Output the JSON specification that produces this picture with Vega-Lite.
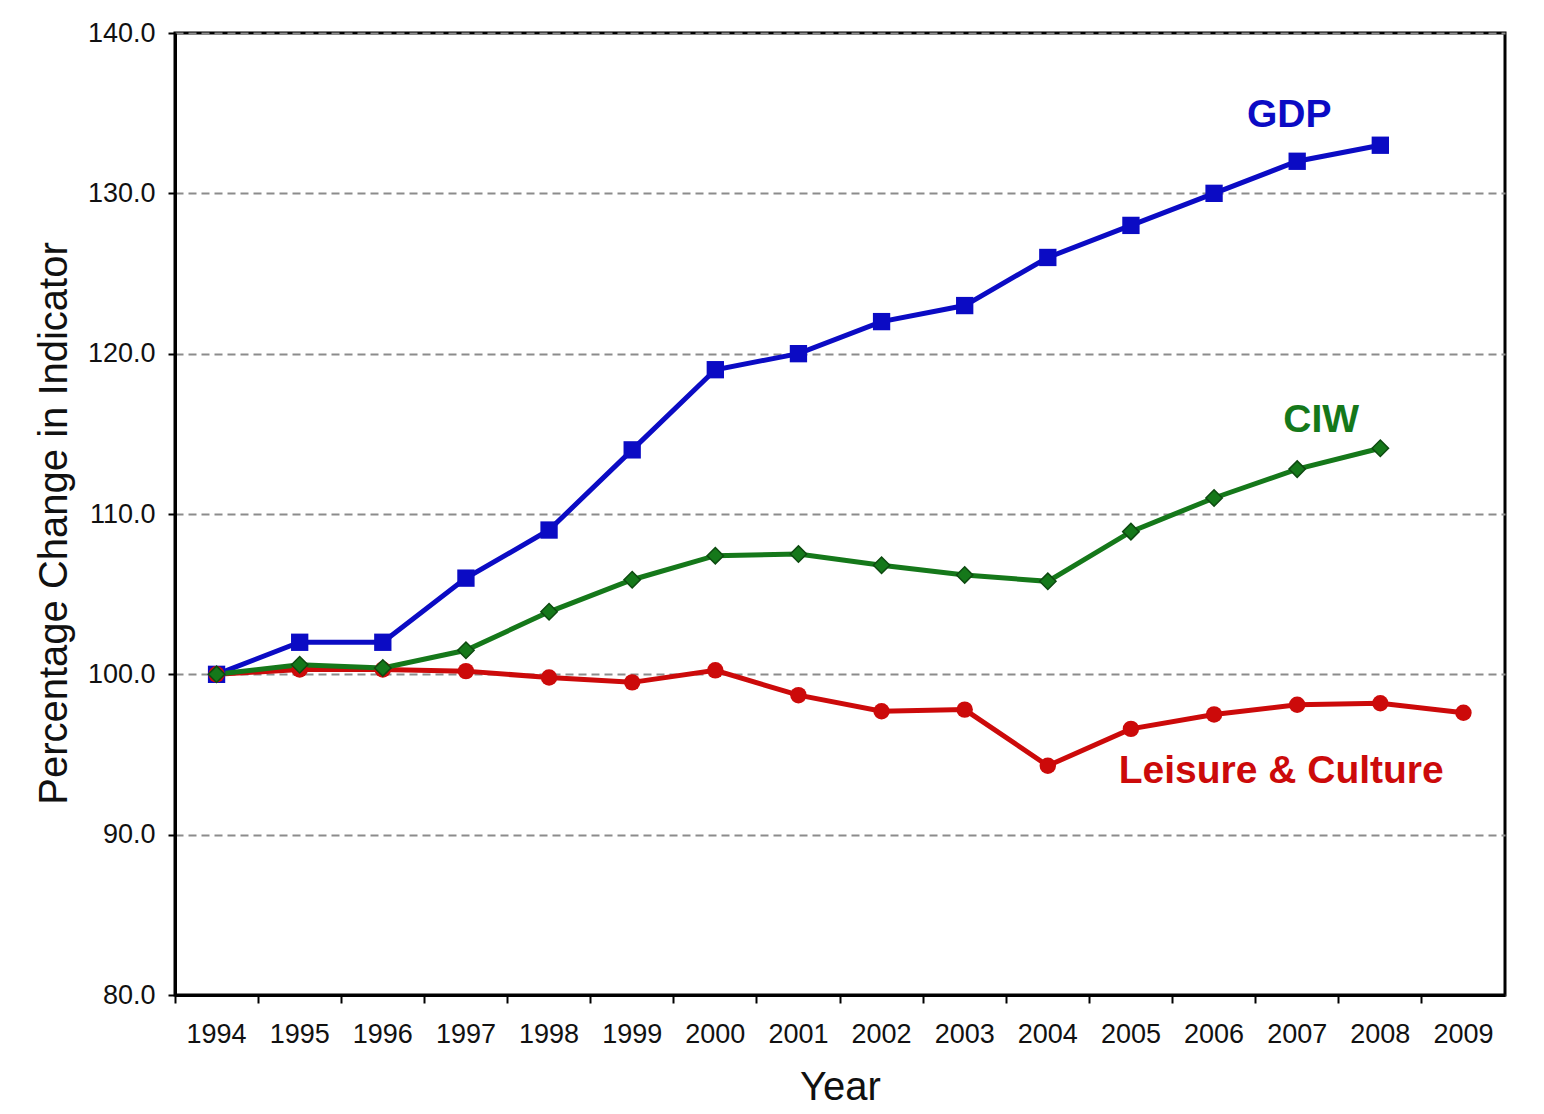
{
  "$schema": "https://vega.github.io/schema/vega-lite/v6.json",
  "width": 1330,
  "height": 962,
  "autosize": {"type": "none"},
  "padding": {"left": 175, "top": 33, "right": 39, "bottom": 119},
  "background": "white",
  "config": {
    "view": {"stroke": "black", "strokeWidth": 3},
    "font": "Liberation Sans",
    "axis": {"labelFont": "Liberation Sans", "titleFont": "Liberation Sans", "labelColor": "#111", "titleColor": "#111", "titleFontWeight": "normal"}
  },
  "datasets": {
    "series": [
      {"year": "1994", "series": "GDP", "value": 100},
      {"year": "1995", "series": "GDP", "value": 102},
      {"year": "1996", "series": "GDP", "value": 102},
      {"year": "1997", "series": "GDP", "value": 106},
      {"year": "1998", "series": "GDP", "value": 109},
      {"year": "1999", "series": "GDP", "value": 114},
      {"year": "2000", "series": "GDP", "value": 119},
      {"year": "2001", "series": "GDP", "value": 120},
      {"year": "2002", "series": "GDP", "value": 122},
      {"year": "2003", "series": "GDP", "value": 123},
      {"year": "2004", "series": "GDP", "value": 126},
      {"year": "2005", "series": "GDP", "value": 128},
      {"year": "2006", "series": "GDP", "value": 130},
      {"year": "2007", "series": "GDP", "value": 132},
      {"year": "2008", "series": "GDP", "value": 133},
      {"year": "1994", "series": "Leisure & Culture", "value": 100},
      {"year": "1995", "series": "Leisure & Culture", "value": 100.3},
      {"year": "1996", "series": "Leisure & Culture", "value": 100.3},
      {"year": "1997", "series": "Leisure & Culture", "value": 100.2},
      {"year": "1998", "series": "Leisure & Culture", "value": 99.8},
      {"year": "1999", "series": "Leisure & Culture", "value": 99.5},
      {"year": "2000", "series": "Leisure & Culture", "value": 100.25},
      {"year": "2001", "series": "Leisure & Culture", "value": 98.7},
      {"year": "2002", "series": "Leisure & Culture", "value": 97.7},
      {"year": "2003", "series": "Leisure & Culture", "value": 97.8},
      {"year": "2004", "series": "Leisure & Culture", "value": 94.3},
      {"year": "2005", "series": "Leisure & Culture", "value": 96.6},
      {"year": "2006", "series": "Leisure & Culture", "value": 97.5},
      {"year": "2007", "series": "Leisure & Culture", "value": 98.1},
      {"year": "2008", "series": "Leisure & Culture", "value": 98.2},
      {"year": "2009", "series": "Leisure & Culture", "value": 97.6},
      {"year": "1994", "series": "CIW", "value": 100},
      {"year": "1995", "series": "CIW", "value": 100.6},
      {"year": "1996", "series": "CIW", "value": 100.4},
      {"year": "1997", "series": "CIW", "value": 101.5},
      {"year": "1998", "series": "CIW", "value": 103.9},
      {"year": "1999", "series": "CIW", "value": 105.9},
      {"year": "2000", "series": "CIW", "value": 107.4},
      {"year": "2001", "series": "CIW", "value": 107.5},
      {"year": "2002", "series": "CIW", "value": 106.8},
      {"year": "2003", "series": "CIW", "value": 106.2},
      {"year": "2004", "series": "CIW", "value": 105.8},
      {"year": "2005", "series": "CIW", "value": 108.9},
      {"year": "2006", "series": "CIW", "value": 111.0},
      {"year": "2007", "series": "CIW", "value": 112.8},
      {"year": "2008", "series": "CIW", "value": 114.1}
    ],
    "labels": [
      {"year": "2007", "series": "GDP", "value": 134.9, "label": "GDP"},
      {"year": "2007", "series": "CIW", "value": 115.85, "label": "CIW"},
      {"year": "2007", "series": "Leisure & Culture", "value": 94.0, "label": "Leisure & Culture"}
    ]
  },
  "encoding": {
    "x": {
      "field": "year", "type": "ordinal", "bandPosition": 0.5,
      "scale": {"type": "band", "paddingInner": 0, "paddingOuter": 0,
        "domain": ["1994","1995","1996","1997","1998","1999","2000","2001","2002","2003","2004","2005","2006","2007","2008","2009"]},
      "axis": {
        "title": "Year", "titleFontSize": 40, "titlePadding": 20,
        "labelAngle": 0, "labelFontSize": 27, "labelPadding": 18,
        "bandPosition": 0,
        "tickSize": 8, "tickWidth": 2, "tickColor": "black",
        "domainColor": "black", "domainWidth": 3, "grid": false
      }
    },
    "y": {
      "field": "value", "type": "quantitative",
      "scale": {"domain": [80, 140], "nice": false, "zero": false},
      "axis": {
        "title": "Percentage  Change in Indicator", "titleFontSize": 40, "titlePadding": 13, "titleY": 490,
        "values": [80, 90, 100, 110, 120, 130, 140], "format": ".1f",
        "labelFontSize": 27, "labelPadding": 13,
        "tickSize": 7, "tickWidth": 2, "tickColor": "black",
        "domainColor": "black", "domainWidth": 3,
        "grid": true, "gridColor": "#8c8c8c", "gridDash": [8, 5], "gridWidth": 2
      }
    }
  },
  "layer": [
    {
      "data": {"name": "series"},
      "mark": {"type": "line", "strokeWidth": 5},
      "encoding": {
        "color": {"field": "series", "type": "nominal", "legend": null,
          "scale": {"domain": ["GDP", "Leisure & Culture", "CIW"], "range": ["#0b0bc4", "#cc0a0a", "#15781a"]}}
      }
    },
    {
      "data": {"name": "series"},
      "transform": [{"filter": "datum.series === 'GDP'"}],
      "mark": {"type": "square", "size": 300, "filled": true, "opacity": 1, "color": "#0b0bc4"},
      "encoding": {}
    },
    {
      "data": {"name": "series"},
      "transform": [{"filter": "datum.series === 'Leisure & Culture'"}],
      "mark": {"type": "circle", "size": 270, "opacity": 1, "color": "#cc0a0a"},
      "encoding": {}
    },
    {
      "data": {"name": "series"},
      "transform": [{"filter": "datum.series === 'CIW'"}],
      "mark": {"type": "point", "shape": "diamond", "size": 270, "filled": true, "opacity": 1, "fill": "#15781a", "stroke": "#0d4a10", "strokeWidth": 1.5},
      "encoding": {}
    },
    {
      "data": {"name": "labels"},
      "transform": [{"filter": "datum.series === 'GDP'"}],
      "mark": {"type": "text", "fontSize": 39, "fontWeight": "bold", "align": "center", "baseline": "middle", "font": "Liberation Sans", "dx": -8, "color": "#0b0bc4"},
      "encoding": {"text": {"field": "label"}}
    },
    {
      "data": {"name": "labels"},
      "transform": [{"filter": "datum.series === 'CIW'"}],
      "mark": {"type": "text", "fontSize": 39, "fontWeight": "bold", "align": "center", "baseline": "middle", "font": "Liberation Sans", "dx": 24, "color": "#15781a"},
      "encoding": {"text": {"field": "label"}}
    },
    {
      "data": {"name": "labels"},
      "transform": [{"filter": "datum.series === 'Leisure & Culture'"}],
      "mark": {"type": "text", "fontSize": 39, "fontWeight": "bold", "align": "center", "baseline": "middle", "font": "Liberation Sans", "dx": -16, "color": "#cc0a0a"},
      "encoding": {"text": {"field": "label"}}
    }
  ]
}
